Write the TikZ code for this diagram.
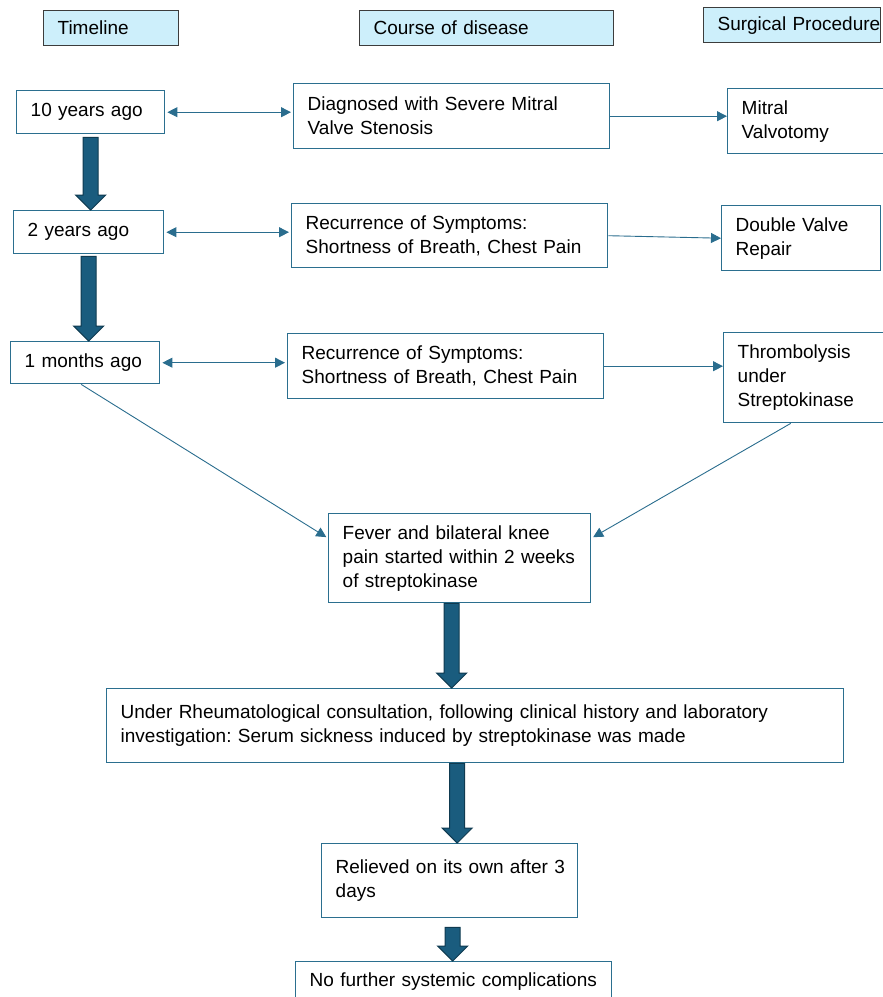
\documentclass[tikz,border=0pt]{standalone}
\usepackage{fontspec}
\setmainfont{Liberation Sans}
\usetikzlibrary{arrows.meta,calc}
\definecolor{boxedge}{HTML}{2B6F8F}
\definecolor{linkcol}{HTML}{2A6D8E}
\definecolor{headfill}{HTML}{CDEFFB}
\definecolor{headedge}{HTML}{3C3C3C}
\definecolor{arrowfill}{HTML}{1A5C7E}
\definecolor{arrowedge}{HTML}{0F3A50}
\frenchspacing

\begin{document}
\begin{tikzpicture}[x=1pt,y=-1pt]
\tikzstyle{every node}+=[font=\fontsize{19}{24}\selectfont]
\tikzstyle{stepbox}=[draw=boxedge, line width=1.4pt, fill=white, anchor=north west, align=left, inner xsep=14pt, inner ysep=0pt]
\tikzstyle{headbox}=[stepbox, draw=headedge, line width=1.2pt, fill=headfill]
\tikzstyle{link}=[draw=linkcol, line width=0.9pt, -{Triangle[length=10pt,width=10pt]}]
\tikzstyle{twolink}=[link, {Triangle[length=10pt,width=10pt]}-{Triangle[length=10pt,width=10pt]}, shorten >=2pt, shorten <=2pt]
\tikzstyle{fatarrow}=[draw=arrowedge, fill=arrowfill, line width=1pt, to path={let \p1=(\tikztostart), \p2=(\tikztotarget) in (\x1-7.5pt,\y1) -- (\x1-7.5pt,\y2+15pt) -- (\x1-15pt,\y2+15pt) -- (\x1,\y2) -- (\x1+15pt,\y2+15pt) -- (\x1+7.5pt,\y2+15pt) -- (\x1+7.5pt,\y1) -- cycle}]
\useasboundingbox (0,0) rectangle (883,997);
\clip (0,0) rectangle (883,997);
\node[headbox, text width=107pt, minimum height=35pt] (timeline) at (43,10) {Timeline};
\node[headbox, text width=226pt, minimum height=35pt] (course) at (359,10) {Course of disease};
\node[headbox, text width=149pt, minimum height=35pt] (surgery) at (703,7) {\mbox{Surgical Procedure}};
\node[stepbox, text width=120pt, minimum height=43pt] (tenyears) at (16,90) {10 years ago};
\node[stepbox, text width=122pt, minimum height=43pt] (twoyears) at (13,210) {2 years ago};
\node[stepbox, text width=121pt, minimum height=42pt] (onemonth) at (10,341) {1 months ago};
\node[stepbox, text width=288pt, minimum height=65pt] (diagnosed) at (293,83) {Diagnosed with Severe Mitral\\Valve Stenosis};
\node[stepbox, text width=288pt, minimum height=64pt] (recurfirst) at (291,203) {Recurrence of Symptoms:\\Shortness of Breath, Chest Pain};
\node[stepbox, text width=288pt, minimum height=65pt] (recursecond) at (287,333) {Recurrence of Symptoms:\\Shortness of Breath, Chest Pain};
\node[stepbox, text width=150pt, minimum height=65pt] (valvotomy) at (727,88) {Mitral\\Valvotomy};
\node[stepbox, text width=131pt, minimum height=65pt] (doublevalve) at (721,205) {Double Valve\\Repair};
\node[stepbox, text width=150pt, minimum height=90pt] (thrombolysis) at (723,332) {Thrombolysis\\under\\Streptokinase};
\node[stepbox, text width=234pt, minimum height=89pt] (fever) at (328,513) {\mbox{Fever and bilateral knee}\\\mbox{pain started within 2 weeks}\\of streptokinase};
\node[stepbox, text width=709pt, minimum height=74pt] (rheum) at (106,688) {\mbox{Under Rheumatological consultation, following clinical history and laboratory}\\investigation: Serum sickness induced by streptokinase was made};
\node[stepbox, text width=228pt, minimum height=74pt] (relieved) at (321,843) {\mbox{Relieved on its own after 3}\\days};
\node[stepbox, text width=288pt, minimum height=40pt] (nofurther) at (295,961) {No further systemic complications};
\draw[twolink] (tenyears.east) -- (tenyears.east -| diagnosed.west);
\draw[twolink] (twoyears.east) -- (twoyears.east -| recurfirst.west);
\draw[twolink] (onemonth.east) -- (onemonth.east -| recursecond.west);
\draw[link] (diagnosed.east) -- (diagnosed.east -| valvotomy.west);
\draw[link] (recurfirst.east) -- (doublevalve.west);
\draw[link] (recursecond.east) -- (recursecond.east -| thrombolysis.west);
\draw[link, shorten >=2pt] ([xshift=-4]onemonth.south) -- ([yshift=20]fever.west);
\draw[link, shorten >=2pt] ([xshift=-22]thrombolysis.south) -- ([yshift=20]fever.east);
\draw[fatarrow] ([yshift=-3]tenyears.south) to (tenyears.south |- twoyears.north);
\draw[fatarrow] ([yshift=-2]twoyears.south) to (twoyears.south |- onemonth.north);
\draw[fatarrow] ([xshift=-8]fever.south) to ([xshift=-8]fever.south |- rheum.north);
\draw[fatarrow] ([xshift=-18]rheum.south) to ([xshift=-18]rheum.south |- relieved.north);
\draw[fatarrow] ([xshift=3,yshift=-9]relieved.south) to ([xshift=3]relieved.south |- nofurther.north);
\end{tikzpicture}
\end{document}
